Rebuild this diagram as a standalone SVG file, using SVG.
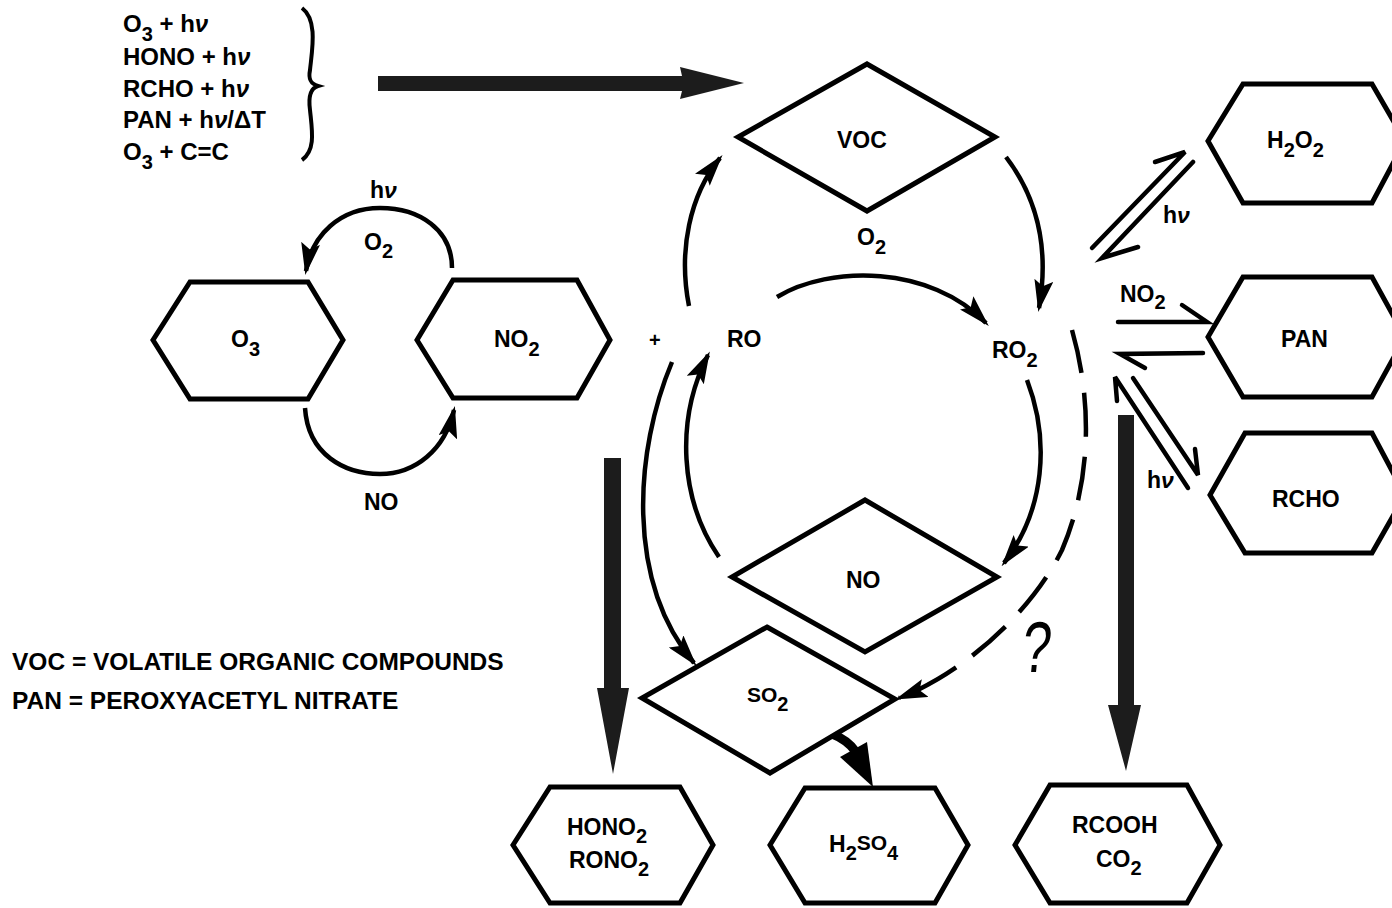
<svg xmlns="http://www.w3.org/2000/svg" width="1392" height="908" viewBox="0 0 1392 908">
<defs>
<style>
.shape{fill:#fff;stroke:#000;stroke-width:5;stroke-linejoin:miter}
.lbl{font-family:"Liberation Sans",Arial,Helvetica,sans-serif;font-weight:bold;font-size:23px;fill:#000}
.big{font-size:24px}
.sub{font-size:20px}
.nu{font-style:italic}
.arc{fill:none;stroke:#000;stroke-width:4.5;marker-end:url(#ah)}
.plain{fill:none;stroke:#000;stroke-width:4.5;stroke-linecap:round}
.dash{stroke-dasharray:44 20}
.thick{fill:#1c1c1c}
</style>
<marker id="ah" markerUnits="userSpaceOnUse" markerWidth="32" markerHeight="19" viewBox="0 0 32 19" refX="28" refY="9.5" orient="auto">
<path d="M0,0 L32,9.5 L0,19 L6,9.5 z" fill="#000"/>
</marker>
</defs>
<rect width="1392" height="908" fill="#fff"/>

<g id="connectors">
<polygon class="thick" points="378,76 682,76 680,67 744,83 680,99 682,91 378,91"/>
<path class="arc" d="M452,268 C452,230 420,208 380,208 C340,208 312,235 306,271"/>
<path class="arc" d="M305,408 C308,455 345,474 380,474 C415,474 445,450 454,410"/>
<path class="arc" d="M689,306 C678,250 690,195 720,158"/>
<path class="arc" d="M1006,157 C1035,195 1050,245 1039,308"/>
<path class="arc" d="M777,297 C830,265 930,265 986,323"/>
<path class="arc" d="M1027,380 C1050,440 1045,510 1004,563"/>
<path class="arc" d="M719,557 C680,500 675,420 708,355"/>
<path class="arc" d="M672,362 C635,450 625,580 694,663"/>
<path class="arc dash" d="M1072,330 C1092,400 1092,480 1062,550 C1030,615 960,675 899,698"/>
<path d="M830,733 Q848,740 856,752" fill="none" stroke="#000" stroke-width="9"/>
<polygon points="840,757 867,742 873,787" fill="#000"/>
<polygon class="thick" points="604,458 621,458 621,688 629,688 613,774 597,688 604,688"/>
<polygon class="thick" points="1118,415 1134,415 1134,705 1141,705 1126,771 1108,705 1118,705"/>
<path class="plain" d="M1092,248 L1185,152 L1155,162"/>
<path class="plain" d="M1193,162 L1102,258 L1138,247"/>
<path class="plain" d="M1118,322 L1207,322 L1182,305"/>
<path class="plain" d="M1203,353 L1120,354 L1145,368"/>
<path class="plain" d="M1188,488 L1115,377 L1117,401"/>
<path class="plain" d="M1133,378 L1198,475 L1195,449"/>
<path d="M302,8 C318,20 312,50 310,70 C308,80 311,84 318,86 C311,88 308,95 310,110 C312,130 316,150 302,160" fill="none" stroke="#000" stroke-width="4"/>
</g>

<g id="sources">
<text class="lbl big" x="123" y="32">O<tspan class="sub" dy="9">3</tspan><tspan dy="-9"> + h</tspan><tspan class="nu">ν</tspan></text>
<text class="lbl big" x="123" y="65">HONO + h<tspan class="nu">ν</tspan></text>
<text class="lbl big" x="123" y="97">RCHO + h<tspan class="nu">ν</tspan></text>
<text class="lbl big" x="123" y="128">PAN + h<tspan class="nu">ν</tspan>/ΔT</text>
<text class="lbl big" x="123" y="160">O<tspan class="sub" dy="9">3</tspan><tspan dy="-9"> + C=C</tspan></text>
</g>

<g id="legend">
<text class="lbl" style="font-size:24.5px" x="12" y="670">VOC = VOLATILE ORGANIC COMPOUNDS</text>
<text class="lbl" style="font-size:24.5px" x="12" y="709">PAN = PEROXYACETYL NITRATE</text>
</g>

<g id="edge-labels">
<text class="lbl" x="370" y="198">h<tspan class="nu">ν</tspan></text>
<text class="lbl" x="364" y="250">O<tspan class="sub" dy="8">2</tspan></text>
<text class="lbl" x="364" y="510">NO</text>
<text class="lbl" x="857" y="245">O<tspan class="sub" dy="9">2</tspan></text>
<text class="lbl" x="649" y="347" style="font-size:20px">+</text>
<text class="lbl" x="1163" y="223">h<tspan class="nu">ν</tspan></text>
<text class="lbl" x="1120" y="302">NO<tspan class="sub" dy="7">2</tspan></text>
<text class="lbl" x="1147" y="488">h<tspan class="nu">ν</tspan></text>
<text transform="translate(1020,672) scale(0.72,1) skewX(-8)" x="0" y="0" style="font-family:'Liberation Sans',Arial,sans-serif;font-size:72px;fill:#000">?</text>
</g>

<g id="node-RO"><text class="lbl" x="727" y="347">RO</text></g>
<g id="node-RO2"><text class="lbl" x="992" y="358">RO<tspan class="sub" dy="9">2</tspan></text></g>

<g id="node-O3">
<polygon class="shape" points="153,340 190,282 308,282 343,340 308,399 190,399"/>
<text class="lbl" x="231" y="347">O<tspan class="sub" dy="9">3</tspan></text>
</g>
<g id="node-NO2">
<polygon class="shape" points="417,340 453,280 577,280 610,340 577,398 453,398"/>
<text class="lbl" x="494" y="347">NO<tspan class="sub" dy="9">2</tspan></text>
</g>
<g id="node-VOC">
<polygon class="shape" points="867,64 995,137 867,211 738,137"/>
<text class="lbl" x="837" y="148">VOC</text>
</g>
<g id="node-NO">
<polygon class="shape" points="865,500 997,577 865,652 732,577"/>
<text class="lbl" x="846" y="588">NO</text>
</g>
<g id="node-SO2">
<polygon class="shape" points="767,627 895,699 770,773 642,698"/>
<text class="lbl" style="font-size:21px" x="747" y="702">SO<tspan class="sub" dy="9">2</tspan></text>
</g>
<g id="node-H2O2">
<polygon class="shape" points="1208,141 1243,84 1372,84 1405,141 1372,203 1243,203"/>
<text class="lbl" x="1267" y="148">H<tspan class="sub" dy="9">2</tspan><tspan dy="-9">O</tspan><tspan class="sub" dy="9">2</tspan></text>
</g>
<g id="node-PAN">
<polygon class="shape" points="1208,337 1243,277 1372,277 1405,337 1372,397 1243,397"/>
<text class="lbl" x="1281" y="347">PAN</text>
</g>
<g id="node-RCHO">
<polygon class="shape" points="1210,495 1245,433 1372,433 1405,495 1372,553 1245,553"/>
<text class="lbl" x="1272" y="507">RCHO</text>
</g>
<g id="node-HONO2">
<polygon class="shape" points="513,845 550,787 680,787 713,845 680,903 550,903"/>
<text class="lbl" x="567" y="835">HONO<tspan class="sub" dy="8">2</tspan></text>
<text class="lbl" x="569" y="868">RONO<tspan class="sub" dy="8">2</tspan></text>
</g>
<g id="node-H2SO4">
<polygon class="shape" points="770,845 805,788 935,788 968,845 935,903 805,903"/>
<text class="lbl" x="829" y="852">H<tspan class="sub" dy="8">2</tspan><tspan dy="-10" style="font-size:21px">SO</tspan><tspan class="sub" dy="10">4</tspan></text>
</g>
<g id="node-RCOOH">
<polygon class="shape" points="1015,845 1050,785 1187,785 1220,845 1187,903 1050,903"/>
<text class="lbl" x="1072" y="833">RCOOH</text>
<text class="lbl" x="1096" y="867">CO<tspan class="sub" dy="8">2</tspan></text>
</g>
</svg>
